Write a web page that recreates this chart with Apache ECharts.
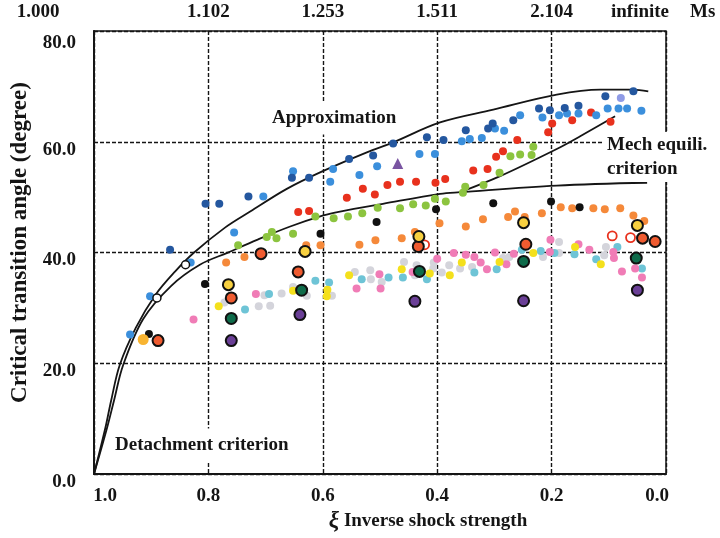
<!DOCTYPE html>
<html>
<head>
<meta charset="utf-8">
<script src="https://cdn.jsdelivr.net/npm/echarts@6/dist/echarts.min.js"></script>
<style>
  html, body { margin: 0; padding: 0; background: #fff; }
  #chart { width: 720px; height: 538px; }
</style>
</head>
<body>
<div id="chart"></div>
<script>
// Tick labels: inverse shock strength (bottom), shock Mach number (top), angle (left)
const xiTickLabels = ['1.0', '0.8', '0.6', '0.4', '0.2', '0.0'];
const machTickLabels = ['1.000', '1.102', '1.253', '1.511', '2.104', 'infinite'];
const angleTickLabels = ['0.0', '20.0', '40.0', '60.0', '80.0'];

// Theoretical criteria, [xi, angle in degrees]
const approximationCurve = [[1.0,0],[0.980,8.4],[0.970,13.3],[0.955,19.7],[0.927,26.4],[0.893,32.3],[0.858,36.6],[0.825,40.0],[0.771,44.5],[0.727,47.4],[0.663,51.5],[0.600,54.7],[0.523,58.1],[0.477,59.9],[0.395,63.5],[0.302,65.8],[0.191,68.5],[0.115,69.4],[0.058,69.4],[0.031,69.1]];
const detachmentCurve = [[1.0,0],[0.977,8.4],[0.965,13.3],[0.949,19.7],[0.914,28.0],[0.865,34.0],[0.815,37.8],[0.766,40.0],[0.715,42.3],[0.657,44.7],[0.599,46.7],[0.570,47.4],[0.495,48.8],[0.395,50.6],[0.360,50.9],[0.191,52.1],[0.033,52.6]];
const mechEquilibriumCurve = [[0.360,50.9],[0.290,53.8],[0.191,58.7],[0.150,61.0],[0.089,64.6]];

// Measured transition angles, grouped by data set
const navyPoints = [[0.867,40.5],[0.805,48.8],[0.781,48.8],[0.730,50.1],[0.654,53.5],[0.624,53.5],[0.554,56.9],[0.512,57.5],[0.477,59.7],[0.418,60.8],[0.389,60.3],[0.350,62.1],[0.311,62.4],[0.303,63.3],[0.267,63.9],[0.222,66.0],[0.203,65.7],[0.177,66.1],[0.153,66.5],[0.106,68.2],[0.057,69.1]];
const skyPoints = [[0.937,25.2],[0.902,32.1],[0.831,38.2],[0.755,43.6],[0.704,50.1],[0.652,54.7],[0.587,52.8],[0.582,55.1],[0.536,54.0],[0.505,55.6],[0.431,57.8],[0.404,57.8],[0.357,60.1],[0.343,60.5],[0.322,60.7],[0.299,62.4],[0.283,62.0],[0.255,64.8],[0.216,64.4],[0.187,64.8],[0.173,65.1],[0.153,65.1],[0.122,64.8],[0.102,66.0],[0.083,66.0],[0.068,66.0],[0.043,65.6]];
const lavenderPoints = [[0.079,67.9]];
const redPoints = [[0.643,47.3],[0.624,47.5],[0.558,49.9],[0.530,51.5],[0.509,50.5],[0.487,52.2],[0.465,52.8],[0.437,52.8],[0.403,52.6],[0.386,53.3],[0.337,54.8],[0.312,55.1],[0.297,57.3],[0.285,58.3],[0.260,60.3],[0.206,61.7],[0.199,63.3],[0.164,63.9],[0.131,65.3],[0.097,63.6]];
const greenPoints = [[0.748,41.3],[0.698,42.8],[0.689,43.7],[0.681,42.6],[0.652,43.4],[0.613,46.5],[0.581,46.2],[0.556,46.5],[0.531,47.1],[0.504,48.1],[0.465,48.0],[0.442,48.7],[0.420,48.5],[0.404,49.7],[0.385,49.2],[0.355,50.8],[0.351,51.9],[0.319,52.2],[0.291,54.4],[0.272,57.4],[0.255,57.7],[0.235,57.6],[0.232,59.1]];
const blackPoints = [[0.904,25.3],[0.806,34.3],[0.604,43.4],[0.506,45.5],[0.402,47.8],[0.302,48.9],[0.201,49.2],[0.151,48.2]];
const orangePoints = [[0.769,38.2],[0.737,39.2],[0.629,41.3],[0.604,41.3],[0.536,41.4],[0.508,42.2],[0.462,42.6],[0.439,43.7],[0.396,45.3],[0.350,44.7],[0.320,46.0],[0.276,46.4],[0.264,47.4],[0.247,46.4],[0.217,47.1],[0.184,48.2],[0.164,48.0],[0.127,48.0],[0.107,47.8],[0.080,48.0],[0.057,46.7],[0.038,45.7]];
const goldPoints = [[0.914,24.3]];
const pinkPoints = [[0.826,27.9],[0.717,32.5],[0.541,33.5],[0.501,36.1],[0.499,33.5],[0.443,36.5],[0.400,38.9],[0.371,39.9],[0.350,39.6],[0.335,39.2],[0.324,38.2],[0.313,37.0],[0.299,40.0],[0.279,37.9],[0.266,39.8],[0.202,42.3],[0.203,40.1],[0.153,41.5],[0.134,40.5],[0.092,40.1],[0.091,39.0],[0.077,36.6],[0.054,37.1],[0.042,35.5]];
const silverPoints = [[0.772,31.0],[0.757,31.9],[0.712,30.3],[0.702,32.3],[0.692,30.4],[0.672,32.6],[0.652,33.8],[0.628,32.2],[0.584,32.2],[0.544,36.5],[0.517,36.8],[0.516,35.2],[0.497,34.7],[0.458,38.3],[0.439,35.9],[0.436,37.7],[0.407,37.1],[0.406,38.2],[0.392,36.4],[0.379,37.7],[0.360,37.1],[0.339,37.4],[0.285,39.0],[0.274,39.2],[0.215,39.2],[0.187,41.9],[0.187,39.9],[0.108,39.5],[0.105,41.0]];
const cyanPoints = [[0.736,29.7],[0.694,32.5],[0.613,34.9],[0.589,34.6],[0.532,35.2],[0.485,35.5],[0.460,35.5],[0.418,35.2],[0.335,36.4],[0.296,37.0],[0.252,40.5],[0.219,40.3],[0.195,39.9],[0.160,39.7],[0.122,38.8],[0.085,41.0],[0.042,37.1]];
const yellowPoints = [[0.782,30.3],[0.652,33.1],[0.592,33.3],[0.593,32.1],[0.554,35.9],[0.462,37.0],[0.413,36.2],[0.378,35.9],[0.357,38.2],[0.291,38.3],[0.232,39.9],[0.159,41.0],[0.114,37.9]];
const ringedRedPoints = [[0.888,24.1],[0.760,31.8],[0.708,39.8],[0.643,36.5],[0.433,41.1],[0.245,41.5],[0.041,42.6],[0.019,42.0]];
const ringedYellowPoints = [[0.765,34.2],[0.631,40.2],[0.432,42.9],[0.249,45.4],[0.050,44.9]];
const ringedGreenPoints = [[0.760,28.1],[0.637,33.2],[0.431,36.6],[0.249,38.4],[0.052,39.0]];
const ringedPurplePoints = [[0.760,24.1],[0.640,28.8],[0.439,31.2],[0.249,31.3],[0.050,33.2]];
const openBlackPoints = [[0.840,37.8],[0.890,31.8]];
const openRedPoints = [[0.422,41.4],[0.094,43.0],[0.062,42.7]];
const trianglePoints = [[0.469,56.1]];

const SERIF = '"Liberation Serif", "Times New Roman", serif';
const INK = '#151515';
const boldText = { fontFamily: SERIF, fontWeight: 'bold', fontSize: 19, color: INK };

const xiIndex = v => Math.round((1 - v) / 0.2);

function curve(name, data) {
  return {
    type: 'line', name, data, symbol: 'none', smooth: 0.35, silent: true, z: 3,
    lineStyle: { color: INK, width: 1.8 }
  };
}

function dots(name, data, color, extra) {
  return Object.assign({
    type: 'scatter', name, data, symbol: 'circle', symbolSize: 8, silent: true, z: 5,
    itemStyle: { color, opacity: 1 }
  }, extra || {});
}

function ringed(name, data, fill) {
  return dots(name, data, fill, {
    symbolSize: 11, z: 6,
    itemStyle: { color: fill, borderColor: '#111', borderWidth: 2, opacity: 1 }
  });
}

const dashed = { show: true, lineStyle: { color: INK, width: 1.4, type: [4, 2] } };

const option = {
  backgroundColor: '#fff',
  animation: false,
  grid: { left: 94, right: 54, top: 31, bottom: 61, show: true, borderColor: INK, borderWidth: 1.5, backgroundColor: 'transparent' },
  xAxis: [
    {
      type: 'value', position: 'bottom', min: 0, max: 1, interval: 0.2, inverse: true,
      axisLine: { show: true, onZero: false, lineStyle: { color: INK, width: 2 } },
      axisTick: { show: false },
      splitLine: dashed,
      axisLabel: Object.assign({}, boldText, {
        margin: 12, showMinLabel: true, showMaxLabel: true,
        formatter: v => {
          const i = xiIndex(v), t = xiTickLabels[i];
          if (i === 0) return '{lead|' + t + '}';
          if (i === xiTickLabels.length - 1) return '{tail|' + t + '}';
          return t;
        },
        rich: {
          lead: Object.assign({}, boldText, { padding: [0, 0, 0, 22] }),
          tail: Object.assign({}, boldText, { padding: [0, 18, 0, 0] })
        }
      }),
      name: '{xi|ξ} Inverse shock strength',
      nameLocation: 'middle', nameGap: 34,
      nameTextStyle: Object.assign({}, boldText, {
        padding: [0, 0, 0, 96],
        rich: {
          xi: { fontFamily: SERIF, fontWeight: 'bold', fontStyle: 'italic', fontSize: 23, color: INK }
        }
      })
    },
    {
      type: 'value', position: 'top', min: 0, max: 1, interval: 0.2, inverse: true,
      axisLine: { show: false }, axisTick: { show: false }, splitLine: { show: false },
      axisLabel: Object.assign({}, boldText, {
        margin: 9, showMinLabel: true, showMaxLabel: true,
        formatter: v => {
          const i = xiIndex(v), t = machTickLabels[i];
          if (i === 0) return '{lead|' + t + '}';
          if (i === machTickLabels.length - 1) return '{tail|' + t + '}';
          return t;
        },
        rich: {
          lead: Object.assign({}, boldText, { padding: [0, 112, 0, 0] }),
          tail: Object.assign({}, boldText, { padding: [0, 52, 0, 0] })
        }
      })
    }
  ],
  yAxis: {
    type: 'value', min: 0, max: 80, interval: 20,
    axisLine: { show: true, onZero: false, lineStyle: { color: INK, width: 2 } },
    axisTick: { show: false },
    splitLine: dashed,
    axisLabel: Object.assign({}, boldText, {
      margin: 18, padding: [16, 0, 0, 0],
      formatter: v => {
        const t = angleTickLabels[Math.round(v / 20)];
        return v === 80 ? '{top|' + t + '}' : t;
      },
      rich: { top: Object.assign({}, boldText, { padding: [8, 0, 0, 0] }) }
    }),
    name: 'Critical transition angle (degree)',
    nameLocation: 'middle', nameGap: 62,
    nameTextStyle: Object.assign({}, boldText, { fontSize: 23, padding: [0, 0, 0, 20] })
  },
  graphic: [
    {
      // name of the upper Mach-number scale
      type: 'text', x: 690, y: 12, z: 10, silent: true,
      style: { text: 'Ms', font: 'bold 19px ' + SERIF, fill: INK, verticalAlign: 'middle' }
    },
    {
      type: 'text', x: 269, y: 118, z: 10, silent: true,
      style: { text: 'Approximation', font: 'bold 19px ' + SERIF, fill: INK, verticalAlign: 'middle', backgroundColor: '#fff', padding: [7, 3] }
    },
    {
      type: 'text', x: 603, y: 157, z: 10, silent: true,
      style: { text: 'Mech equili.\ncriterion', font: 'bold 19px ' + SERIF, fill: INK, lineHeight: 24, verticalAlign: 'middle', backgroundColor: '#fff', padding: [2, 6, 0, 4] }
    },
    {
      type: 'text', x: 112, y: 445, z: 10, silent: true,
      style: { text: 'Detachment criterion', font: 'bold 19px ' + SERIF, fill: INK, verticalAlign: 'middle', backgroundColor: '#fff', padding: [7, 3] }
    }
  ],
  series: [
    curve('Approximation', approximationCurve),
    curve('Detachment criterion', detachmentCurve),
    curve('Mech equili. criterion', mechEquilibriumCurve),
    dots('silver', silverPoints, '#d4d4db'),
    dots('cyan', cyanPoints, '#6ec4d6'),
    dots('pink', pinkPoints, '#f07cb6'),
    dots('yellow', yellowPoints, '#f4e01c'),
    dots('orange', orangePoints, '#f5893a'),
    dots('green', greenPoints, '#8cc43f'),
    dots('red', redPoints, '#e8311d'),
    dots('sky', skyPoints, '#3b8fdc'),
    dots('navy', navyPoints, '#24579f'),
    dots('lavender', lavenderPoints, '#8f9be6'),
    dots('black', blackPoints, '#111111'),
    dots('gold', goldPoints, '#f8b431', { symbolSize: 11 }),
    dots('open black', openBlackPoints, '#ffffff', { itemStyle: { color: '#fff', borderColor: '#111', borderWidth: 1.5, opacity: 1 } }),
    dots('open red', openRedPoints, '#ffffff', { symbolSize: 9, itemStyle: { color: '#fff', borderColor: '#e8311d', borderWidth: 1.8, opacity: 1 } }),
    ringed('ringed red', ringedRedPoints, '#ef5b30'),
    ringed('ringed yellow', ringedYellowPoints, '#f7d040'),
    ringed('ringed green', ringedGreenPoints, '#0e6b4a'),
    ringed('ringed purple', ringedPurplePoints, '#6a3f96'),
    dots('triangle', trianglePoints, '#7a55a2', { symbol: 'triangle', symbolSize: 11 })
  ]
};

const chart = echarts.init(document.getElementById('chart'), null, { renderer: 'canvas' });
chart.setOption(option);
</script>
</body>
</html>
